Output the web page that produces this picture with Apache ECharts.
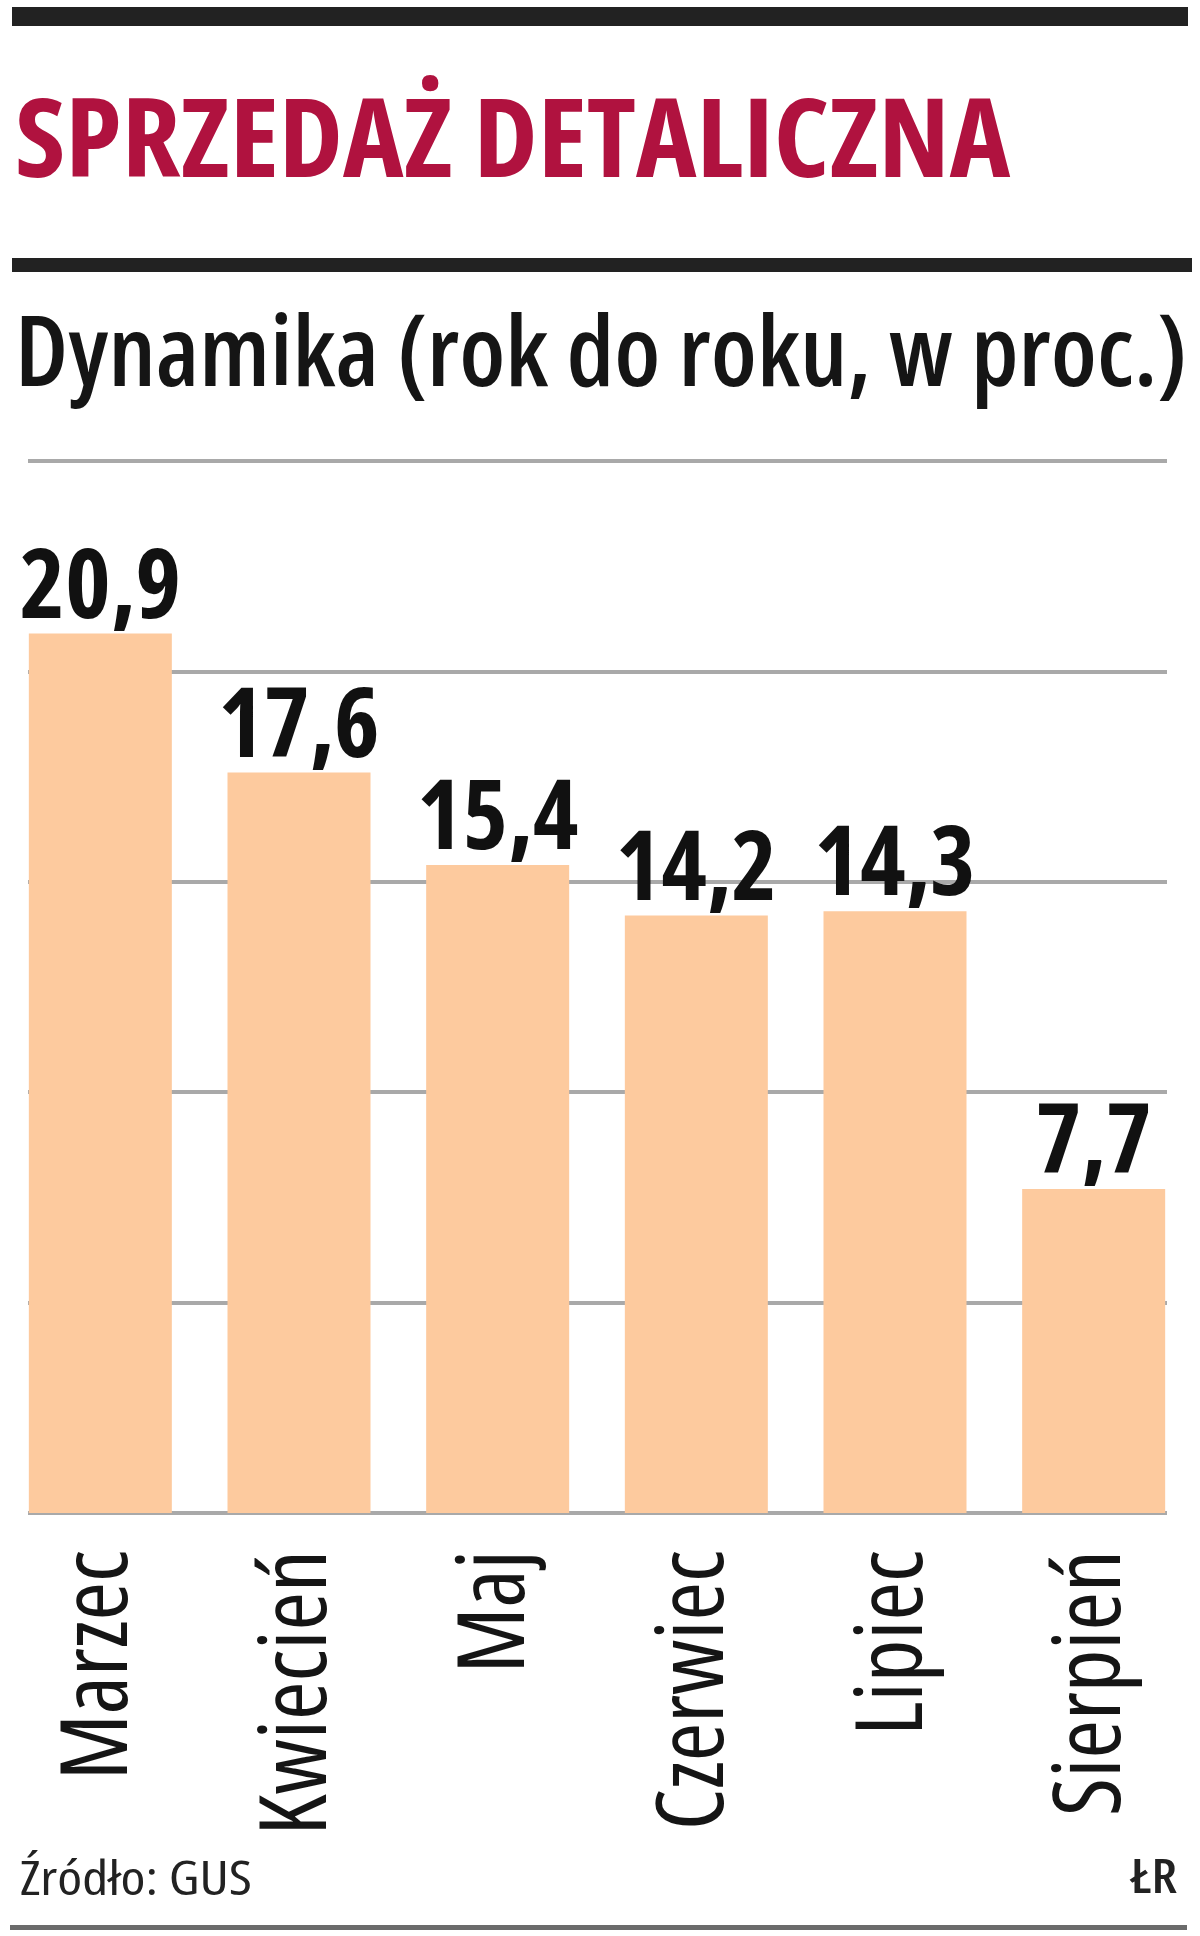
<!DOCTYPE html>
<html>
<head>
<meta charset="utf-8">
<script src="https://cdn.jsdelivr.net/npm/echarts@6/dist/echarts.min.js"></script>
<style>
  html, body { margin: 0; padding: 0; background: #ffffff; }
  #chart { width: 1200px; height: 1936px; }
</style>
</head>
<body>
<div id="chart"></div>
<script>
// ---- data ----
const categories = ['Marzec', 'Kwiecień', 'Maj', 'Czerwiec', 'Lipiec', 'Sierpień'];
const values = [20.9, 17.6, 15.4, 14.2, 14.3, 7.7];
const yMin = 0;
const yMax = 25;
const yInterval = 5;
const titleText = 'SPRZEDAŻ DETALICZNA';
const subtitleText = 'Dynamika (rok do roku, w proc.)';
const sourceText = 'Źródło: GUS';
const authorText = 'ŁR';

const FAM = "'Open Sans', 'Roboto', sans-serif";
const COND = 'condensed';

const chart = echarts.init(document.getElementById('chart'), null, { renderer: 'canvas' });

const option = {
  backgroundColor: '#ffffff',
  animation: false,
  grid: [
    { left: 28, right: 33, top: 461, height: 1052, containLabel: false },
    { left: 1, right: 7, top: 461, height: 1052, containLabel: false }
  ],
  xAxis: [
    { gridIndex: 0, type: 'category', data: categories, show: false },
    {
      gridIndex: 1, type: 'category', data: categories,
      axisLine: { show: false }, axisTick: { show: false },
      axisLabel: {
        rotate: 90, margin: 37, interval: 0,
        fontFamily: FAM, fontStyle: COND, fontWeight: 'normal', fontSize: 93, color: '#151515',
        padding: [0, 0, 16, 0]
      }
    }
  ],
  yAxis: [
    {
      gridIndex: 0, type: 'value', min: yMin, max: yMax, interval: yInterval,
      axisLine: { show: false }, axisTick: { show: false }, axisLabel: { show: false },
      splitLine: { show: true, lineStyle: { color: '#a9a9a9', width: 4 } }
    },
    {
      gridIndex: 1, type: 'value', min: yMin, max: yMax, interval: yInterval,
      show: false, splitLine: { show: false }
    }
  ],
  series: [
    {
      type: 'bar', xAxisIndex: 1, yAxisIndex: 1,
      data: values, barWidth: 143,
      itemStyle: { color: '#fdca9e' },
      label: {
        show: true, position: 'top', distance: -5,
        fontFamily: FAM, fontStyle: COND, fontWeight: 'bold', fontSize: 97, lineHeight: 97,
        color: '#111111',
        formatter: p => p.value.toFixed(1).replace('.', ',')
      }
    }
  ],
  graphic: [
    { type: 'rect', shape: { x: 12, y: 7, width: 1176, height: 19 }, style: { fill: '#222222' } },
    {
      type: 'text', x: 15, y: 146, scaleX: 1.045,
      style: { text: titleText, fontFamily: FAM, fontStyle: COND, fontWeight: 'bold', fontSize: 110, fill: '#b0123f', align: 'left', verticalAlign: 'middle' }
    },
    { type: 'rect', shape: { x: 12, y: 258, width: 1180, height: 14 }, style: { fill: '#222222' } },
    {
      type: 'text', x: 15, y: 358, scaleX: 1.015,
      style: { text: subtitleText, fontFamily: FAM, fontStyle: COND, fontWeight: 600, fontSize: 98, fill: '#151515', align: 'left', verticalAlign: 'middle' }
    },
    {
      type: 'text', x: 20, y: 1881, scaleX: 1.18,
      style: { text: sourceText, fontFamily: FAM, fontStyle: COND, fontWeight: 'normal', fontSize: 48, fill: '#222222', align: 'left', verticalAlign: 'middle' }
    },
    {
      type: 'text', x: 1177, y: 1880, scaleX: 1.15,
      style: { text: authorText, fontFamily: FAM, fontStyle: COND, fontWeight: 600, fontSize: 46, fill: '#222222', align: 'right', verticalAlign: 'middle' }
    },
    { type: 'rect', shape: { x: 10, y: 1925, width: 1177, height: 5 }, style: { fill: '#6b6b6b' } }
  ]
};

chart.setOption(option);
</script>
</body>
</html>
